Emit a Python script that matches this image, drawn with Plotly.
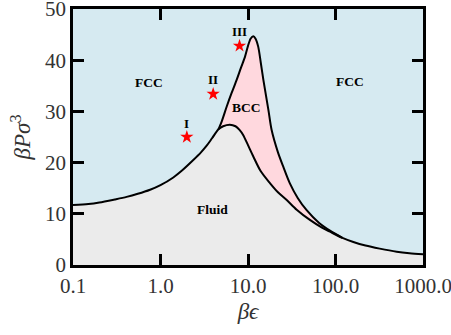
import math
import plotly.graph_objects as go

# Fluid / solid boundary
fluid_x = [0.1, 0.15, 0.2, 0.3, 0.41, 0.55, 0.76, 1.0, 1.4, 1.8, 2.37, 2.9, 3.37, 3.9, 4.6, 5.2, 6.2, 7.2, 8.0, 8.8, 10, 11.5, 14, 17.8, 22, 27.7, 36, 51, 70, 86.5, 120, 160, 220, 320, 500, 700, 1000]
fluid_p = [11.7, 11.9, 12.2, 12.8, 13.3, 13.9, 14.7, 15.6, 17.1, 18.6, 20.5, 22.0, 23.3, 24.8, 26.5, 27.1, 27.4, 27.1, 26.4, 25.4, 23.4, 21.2, 18.3, 16.0, 14.2, 12.7, 10.8, 8.8, 7.3, 6.5, 5.3, 4.5, 3.8, 3.2, 2.6, 2.3, 2.1]

# BCC / FCC boundary
bcc_x = [4.6, 5.0, 5.7, 6.5, 7.4, 8.3, 9.25, 10.0, 10.7, 11.5, 12.2, 13.1, 14.0, 15.0, 17.1, 18.6, 22, 25.3, 30, 37, 46.8, 65, 86.5, 120]
bcc_p = [26.5, 28.0, 30.9, 33.6, 36.1, 38.5, 40.7, 42.8, 44.2, 44.7, 44.2, 42.6, 39.5, 36.1, 30.3, 26.4, 22.0, 19.2, 16.0, 13.1, 10.7, 8.2, 6.7, 5.3]

star_x = [2.0, 4.0, 8.0]
star_p = [25.0, 33.4, 42.8]
star_lbl = ["I", "II", "III"]

region_lbl = ["FCC", "FCC", "BCC", "Fluid"]
region_x = [0.74, 146, 9.7, 3.9]
region_p = [35.7, 35.8, 30.8, 10.8]

x_ticks = [0.1, 1, 10, 100, 1000]
x_ticktext = ["0.1", "1.0", "10.0", "100.0", "1000.0"]
y_ticks = [0, 10, 20, 30, 40, 50]

FCC_COL = "#d6eaf1"
BCC_COL = "#ffd8de"
FLU_COL = "#ebebeb"
LINE = dict(color="black", width=2, shape="spline", smoothing=0.8)

# lower boundary of BCC region = part of fluid curve between junction and merge
i0 = fluid_x.index(bcc_x[0])
i1 = fluid_x.index(bcc_x[-1])
bccl_x = fluid_x[i0:i1 + 1]
bccl_p = fluid_p[i0:i1 + 1]

fig = go.Figure()
fig.add_trace(go.Scatter(x=fluid_x, y=fluid_p, mode="lines", fill="tozeroy",
                         fillcolor=FLU_COL, line=dict(width=0, color=FLU_COL, shape="spline", smoothing=0.8),
                         hoverinfo="skip"))
fig.add_trace(go.Scatter(x=bcc_x + bccl_x[::-1], y=bcc_p + bccl_p[::-1], mode="lines",
                         fill="toself", fillcolor=BCC_COL,
                         line=dict(width=0, color=BCC_COL, shape="spline", smoothing=0.8),
                         hoverinfo="skip"))
fig.add_trace(go.Scatter(x=fluid_x, y=fluid_p, mode="lines", line=LINE, hoverinfo="skip"))
fig.add_trace(go.Scatter(x=bcc_x, y=bcc_p, mode="lines", line=LINE, hoverinfo="skip"))
fig.add_trace(go.Scatter(x=star_x, y=star_p, mode="markers",
                         marker=dict(symbol="star", size=10, color="red", line=dict(width=0))))

serif = "Liberation Serif"
for sx, sp, lb in zip(star_x, star_p, star_lbl):
    fig.add_annotation(x=math.log10(sx), y=sp, xref="x", yref="y", text="<b>%s</b>" % lb, showarrow=False,
                       yshift=14, font=dict(family=serif, size=13, color="black"), xanchor="center")

for lx, lp, t in zip(region_x, region_p, region_lbl):
    fig.add_annotation(x=math.log10(lx), y=lp, xref="x", yref="y", text="<b>%s</b>" % t, showarrow=False,
                       font=dict(family=serif, size=13.5, color="black"))

axis_common = dict(showline=True, linecolor="black", linewidth=2.5, mirror="ticks",
                   ticks="inside", ticklen=11, tickwidth=2.5, tickcolor="black",
                   showgrid=False, zeroline=False, automargin=False,
                   ticklabeloverflow="allow",
                   tickfont=dict(family=serif, size=21, color="#333"))

fig.update_layout(
    width=451, height=335,
    margin=dict(l=73, r=28, t=9, b=70),
    plot_bgcolor=FCC_COL, paper_bgcolor="white",
    showlegend=False,
    xaxis=dict(type="log", range=[-1, 3], tickvals=x_ticks, ticktext=x_ticktext,
               title=dict(text="<i>βϵ</i>", font=dict(family=serif, size=23, color="#333"), standoff=6),
               **axis_common),
    yaxis=dict(range=[0, 50], tickvals=y_ticks,
               title=dict(text="<i>βPσ</i><sup>3</sup>", font=dict(family=serif, size=23, color="#333"), standoff=8),
               **axis_common),
)

fig.write_html("out.html")
